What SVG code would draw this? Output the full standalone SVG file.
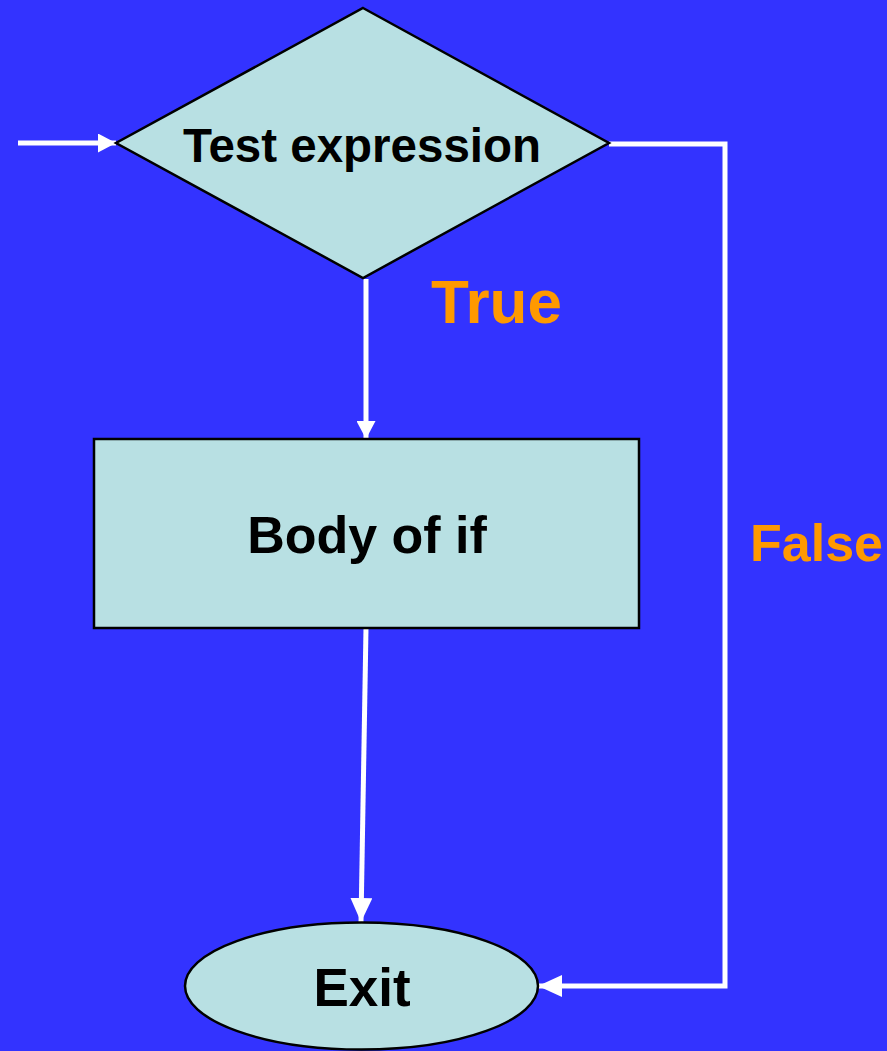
<svg xmlns="http://www.w3.org/2000/svg" width="887" height="1051" viewBox="0 0 887 1051">
  <style>
    .shape { fill: #B8E0E3; stroke: #000; stroke-width: 2.5; }
    .label { font-family: "Liberation Sans", Arial, sans-serif; font-weight: bold; fill: #000; text-anchor: middle; }
    .branch { font-family: "Liberation Sans", Arial, sans-serif; font-weight: bold; fill: #FF9900; }
    .wire { fill: none; stroke: #FFFFFF; stroke-width: 5; }
  </style>
  <defs>
    <marker id="headSmall" markerUnits="userSpaceOnUse" markerWidth="18" markerHeight="19" refX="18" refY="9.5" orient="auto">
      <path d="M0,0 L18,9.5 L0,19 z" fill="#FFFFFF"/>
    </marker>
    <marker id="headLarge" markerUnits="userSpaceOnUse" markerWidth="24" markerHeight="22" refX="24" refY="11" orient="auto">
      <path d="M0,0 L24,11 L0,22 z" fill="#FFFFFF"/>
    </marker>
  </defs>

  <rect x="0" y="0" width="887" height="1051" fill="#3333FF"/>

  <g id="connectors">
    <line class="wire" x1="18" y1="143" x2="116" y2="143" marker-end="url(#headSmall)"/>
    <line class="wire" x1="366" y1="279" x2="366" y2="439" marker-end="url(#headSmall)"/>
    <line class="wire" x1="366" y1="628" x2="361" y2="922" stroke-width="6" marker-end="url(#headLarge)"/>
    <polyline class="wire" points="609,144 725,144 725,986 538,986" stroke-width="7" marker-end="url(#headLarge)"/>
  </g>

  <g id="test">
    <polygon class="shape" points="363,8 609,143 363,278 116,143"/>
    <text class="label" x="362" y="162" font-size="47.5">Test expression</text>
  </g>

  <g id="body">
    <rect class="shape" x="94" y="439" width="545" height="189"/>
    <text class="label" x="367" y="553" font-size="52">Body of if</text>
  </g>

  <g id="exit">
    <ellipse class="shape" cx="361.5" cy="986" rx="176.5" ry="63.5"/>
    <text class="label" x="362" y="1006" font-size="53">Exit</text>
  </g>

  <g id="branch-labels">
    <text class="branch" x="431" y="323" font-size="62">True</text>
    <text class="branch" x="750" y="561" font-size="52">False</text>
  </g>
</svg>
